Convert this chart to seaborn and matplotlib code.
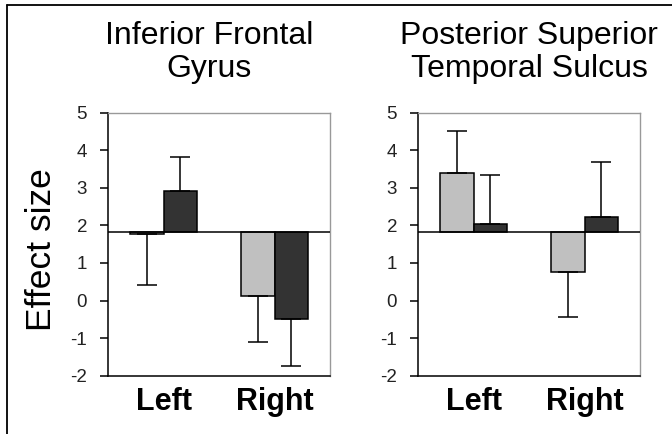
import matplotlib
matplotlib.use("Agg")
import matplotlib.pyplot as plt
import seaborn as sns
import pandas as pd
import numpy as np
from matplotlib.lines import Line2D

# ---- data ----
hemispheres = ["Left", "Right"]
groups = ["Group 1", "Group 2"]
baseline = 1.83

ifg_values = {"Group 1": [1.76, 0.11], "Group 2": [2.92, -0.48]}
ifg_err_tips = {"Group 1": [0.42, -1.11], "Group 2": [3.83, -1.74]}
psts_values = {"Group 1": [3.40, 0.76], "Group 2": [2.03, 2.23]}
psts_err_tips = {"Group 1": [4.52, -0.43], "Group 2": [3.34, 3.70]}

panel_titles = ["Inferior Frontal\nGyrus", "Posterior Superior\nTemporal Sulcus"]
y_ticks = [-2, -1, 0, 1, 2, 3, 4, 5]
ylabel = "Effect size"

colors = ["#c0c0c0", "#333333"]

sns.set_theme(style="white")
plt.rcParams["font.family"] = ["Liberation Sans", "DejaVu Sans"]

fig = plt.figure(figsize=(6.72, 4.34), dpi=100)
W, H = 672, 434

def make_axes(x0, x1, y0, y1):
    return fig.add_axes([x0 / W, 1 - y1 / H, (x1 - x0) / W, (y1 - y0) / H])

ax1 = make_axes(108, 330, 112.7, 375.7)
ax2 = make_axes(418, 640, 112.7, 375.7)

def draw_panel(ax, values, tips, title, title_x):
    rows = []
    for g in groups:
        for h, v in zip(hemispheres, values[g]):
            rows.append({"hemi": h, "group": g, "rel": v - baseline})
    df = pd.DataFrame(rows)
    sns.barplot(data=df, x="hemi", y="rel", hue="group", order=hemispheres,
                hue_order=groups, palette=colors, width=0.6, errorbar=None,
                edgecolor="black", linewidth=1.1, legend=False, ax=ax,
                saturation=1)
    # shift bars so they start at the baseline
    patches = list(ax.patches)
    k = 0
    for g in groups:
        for i, h in enumerate(hemispheres):
            p = patches[k]
            k += 1
            p.set_y(p.get_y() + baseline)
            v = values[g][i]
            tip = tips[g][i]
            xc = p.get_x() + p.get_width() / 2
            if tip >= v:
                yerr = [[0], [tip - v]]
            else:
                yerr = [[v - tip], [0]]
            ax.errorbar([xc], [v], yerr=yerr, fmt="none", ecolor="black",
                        elinewidth=1.1, capsize=7, capthick=1.1, zorder=1)
    ax.axhline(baseline, color="black", linewidth=1.1, zorder=5)
    ax.set_ylim(-2, 5)
    ax.set_xlim(-0.5, 1.5)
    ax.set_yticks(y_ticks)
    ax.set_yticklabels([str(t) for t in y_ticks], fontsize=13.5, color="#222222")
    ax.set_xticks(range(len(hemispheres)))
    ax.set_xticklabels(hemispheres, fontsize=22, fontweight="bold", color="black")
    ax.tick_params(axis="y", direction="out", length=6, width=1.1, color="black", pad=9, left=True)
    ax.tick_params(axis="x", length=0, pad=8)
    ax.set_xlabel("")
    ax.set_ylabel("")
    for s in ["left", "bottom"]:
        ax.spines[s].set_color("black")
        ax.spines[s].set_linewidth(1.1)
    for s in ["top", "right"]:
        ax.spines[s].set_color("#999999")
        ax.spines[s].set_linewidth(1.0)
    ax.set_facecolor("white")
    ax.text(title_x, 1.109, title, transform=ax.transAxes, ha="center", va="bottom",
            fontsize=23, color="black", linespacing=1.12)

draw_panel(ax1, ifg_values, ifg_err_tips, panel_titles[0], 0.455)
draw_panel(ax2, psts_values, psts_err_tips, panel_titles[1], 0.5)

ax1.set_ylabel(ylabel, fontsize=25.5, color="black")
ax1.yaxis.set_label_coords(-0.225, 0.48)

# image frame lines (left and top)
fig.add_artist(Line2D([7 / W, 7 / W], [0, 1 - 5 / H], color="black", linewidth=1.3,
                      transform=fig.transFigure))
fig.add_artist(Line2D([7 / W, 1], [1 - 5 / H, 1 - 5 / H], color="black", linewidth=1.3,
                      transform=fig.transFigure))

fig.savefig("out.png", dpi=100, facecolor="white")
